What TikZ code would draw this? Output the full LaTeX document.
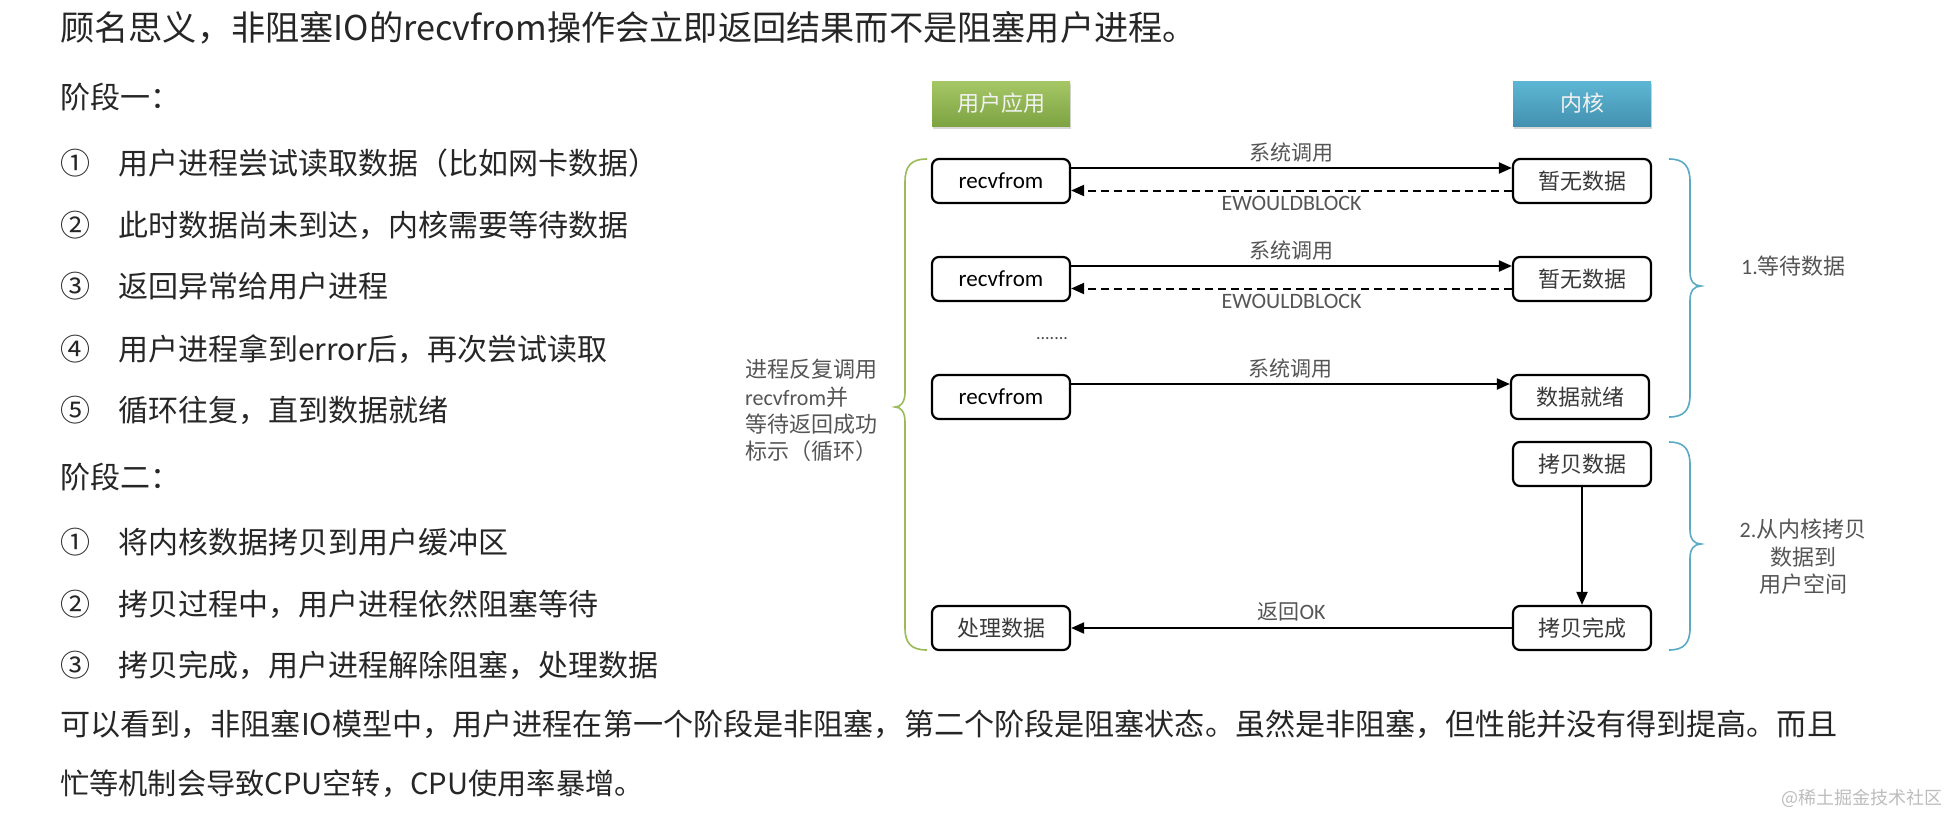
\documentclass[tikz,border=0pt]{standalone}
\usepackage{fontspec}
\setmainfont{Noto Sans CJK SC}
\newfontfamily\cjk{Noto Sans CJK SC}
\newfontfamily\lat{Carlito}
\usetikzlibrary{arrows.meta,shadows}
\definecolor{txt}{HTML}{262626}
\definecolor{labgray}{HTML}{555555}
\definecolor{boxtxt}{HTML}{3A3A3A}
\definecolor{gbr}{HTML}{9BBB59}
\definecolor{bbr}{HTML}{5AAAC4}
\definecolor{hgtop}{HTML}{A6C766}
\definecolor{hgbot}{HTML}{7DA343}
\definecolor{hbtop}{HTML}{5DB7D4}
\definecolor{hbbot}{HTML}{4391B0}
\definecolor{wm}{HTML}{BDBDBD}
\begin{document}
\begin{tikzpicture}[x=1pt,y=-1pt,
  body/.style={anchor=west,inner sep=0pt,text=txt,font=\cjk\fontsize{30}{36}\selectfont},
  box/.style={draw=black,line width=2.2pt,rounded corners=7pt,minimum width=138pt,minimum height=44pt,inner sep=0pt,fill=white},
  bt/.style={font=\cjk\fontsize{22}{26}\selectfont,text=boxtxt},
  bl/.style={font=\lat\fontsize{23}{26}\selectfont,text=black},
  lab/.style={font=\cjk\fontsize{21}{25}\selectfont,text=labgray,inner sep=0pt},
  hdr/.style={minimum width=138pt,minimum height=45pt,inner sep=0pt,font=\cjk\fontsize{22}{26}\selectfont,text=white!95!black,drop shadow={shadow xshift=1pt,shadow yshift=-3pt,opacity=0.3}},
  arr/.style={line width=2pt,-{Triangle[length=13pt,width=11pt]}},
  darr/.style={arr,dash pattern=on 8pt off 5pt},
  gbrace/.style={draw=gbr,line width=1.6pt},
  bbrace/.style={draw=bbr,line width=1.6pt},
]
\useasboundingbox (0,0) rectangle (1953,819);
\fill[white] (0,0) rectangle (1953,819);

% ---------- left text ----------
\node[body,font=\cjk\fontsize{34.2}{40}\selectfont] (t0) at (60,28) {顾名思义，非阻塞IO的recvfrom操作会立即返回结果而不是阻塞用户进程。};
\node[body] (s1) at (60,97) {阶段一：};
\node[body] (n11) at (60,163) {①};
\node[body] (i11) at (118,163) {用户进程尝试读取数据（比如网卡数据）};
\node[body] (n12) at (60,225) {②};
\node[body] (i12) at (118,225) {此时数据尚未到达，内核需要等待数据};
\node[body] (n13) at (60,286) {③};
\node[body] (i13) at (118,286) {返回异常给用户进程};
\node[body] (n14) at (60,349) {④};
\node[body] (i14) at (118,349) {用户进程拿到error后，再次尝试读取};
\node[body] (n15) at (60,410) {⑤};
\node[body] (i15) at (118,410) {循环往复，直到数据就绪};
\node[body] (s2) at (60,477) {阶段二：};
\node[body] (n21) at (60,542) {①};
\node[body] (i21) at (118,542) {将内核数据拷贝到用户缓冲区};
\node[body] (n22) at (60,604) {②};
\node[body] (i22) at (118,604) {拷贝过程中，用户进程依然阻塞等待};
\node[body] (n23) at (60,665) {③};
\node[body] (i23) at (118,665) {拷贝完成，用户进程解除阻塞，处理数据};
\node[body,font=\cjk\fontsize{30.1}{36}\selectfont] (p1) at (60,724) {可以看到，非阻塞IO模型中，用户进程在第一个阶段是非阻塞，第二个阶段是阻塞状态。虽然是非阻塞，但性能并没有得到提高。而且};
\node[body,font=\cjk\fontsize{29.2}{36}\selectfont] (p2) at (60,784) {忙等机制会导致CPU空转，CPU使用率暴增。};
\node[anchor=east,inner sep=0pt,text=wm,font=\cjk\fontsize{18}{22}\selectfont] (wm) at (1943,798) {@稀土掘金技术社区};

% ---------- diagram ----------
\node[hdr,top color=hgtop,bottom color=hgbot] (ua) at (1001,103.5) {用户应用};
\node[hdr,top color=hbtop,bottom color=hbbot] (kn) at (1582,103.5) {内核};

\node[box,bl] (r1) at (1001,181) {recvfrom};
\node[box,bt] (k1) at (1582,181) {暂无数据};
\node[box,bl] (r2) at (1001,279) {recvfrom};
\node[box,bt] (k2) at (1582,279) {暂无数据};
\node[lab,font=\lat\fontsize{18}{20}\selectfont,text=black!70] (dots) at (1052,339) {.......};
\node[box,bl] (r3) at (1001,397) {recvfrom};
\node[box,bt] (k3) at (1580,397) {数据就绪};
\node[box,bt] (cp) at (1582,464) {拷贝数据};
\node[box,bt] (cd) at (1582,628) {拷贝完成};
\node[box,bt] (pd) at (1001,628) {处理数据};

\draw[arr] ([yshift=13pt]r1.east) -- ([yshift=13pt]k1.west) node[midway,above=5pt,lab] {系统调用};
\draw[darr] ([yshift=-9.5pt]k1.west) -- ([yshift=-9.5pt]r1.east) node[midway,below=5pt,lab,font=\lat\fontsize{22}{25}\selectfont] {EWOULDBLOCK};
\draw[arr] ([yshift=13pt]r2.east) -- ([yshift=13pt]k2.west) node[midway,above=5pt,lab] {系统调用};
\draw[darr] ([yshift=-9.5pt]k2.west) -- ([yshift=-9.5pt]r2.east) node[midway,below=5pt,lab,font=\lat\fontsize{22}{25}\selectfont] {EWOULDBLOCK};
\draw[arr] ([yshift=13pt]r3.east) -- ([yshift=13pt]k3.west) node[midway,above=5pt,lab] {系统调用};
\draw[arr] (cp.south) -- (cd.north);
\draw[arr] (cd.west) -- (pd.east) node[midway,above=6pt,lab] {返回{\lat\fontsize{22}{25}\selectfont OK}};

% braces
\draw[gbrace] (927,159) .. controls (911,159) and (905,166) .. (905,182) -- (905,392) .. controls (905,402) and (901,407) .. (895,407) .. controls (901,407) and (905,412) .. (905,422) -- (905,628) .. controls (905,643) and (911,650) .. (927,650);
\draw[bbrace] (1669,159) .. controls (1684,159) and (1690,166) .. (1690,182) -- (1690,272) .. controls (1690,281) and (1694,286) .. (1701,286) .. controls (1694,286) and (1690,291) .. (1690,300) -- (1690,395) .. controls (1690,410) and (1684,417) .. (1669,417);
\draw[bbrace] (1669,442) .. controls (1684,442) and (1690,449) .. (1690,465) -- (1690,530) .. controls (1690,539) and (1694,544) .. (1701,544) .. controls (1694,544) and (1690,549) .. (1690,558) -- (1690,628) .. controls (1690,643) and (1684,650) .. (1669,650);

% annotations
\node[anchor=west,inner sep=0pt,align=left,text=labgray,font=\cjk\fontsize{22}{27.3}\selectfont] (lt) at (745,410.5) {进程反复调用\\{\lat recvfrom}并\\等待返回成功\\标示（循环）};
\node[anchor=west,inner sep=0pt,text=labgray,font=\cjk\fontsize{22}{26}\selectfont] (w1) at (1741,266) {{\lat 1.}等待数据};
\node[inner sep=0pt,align=center,text=labgray,font=\cjk\fontsize{22}{27.5}\selectfont] (w2) at (1803,557) {{\lat 2.}从内核拷贝\\数据到\\用户空间};
\end{tikzpicture}
\end{document}
